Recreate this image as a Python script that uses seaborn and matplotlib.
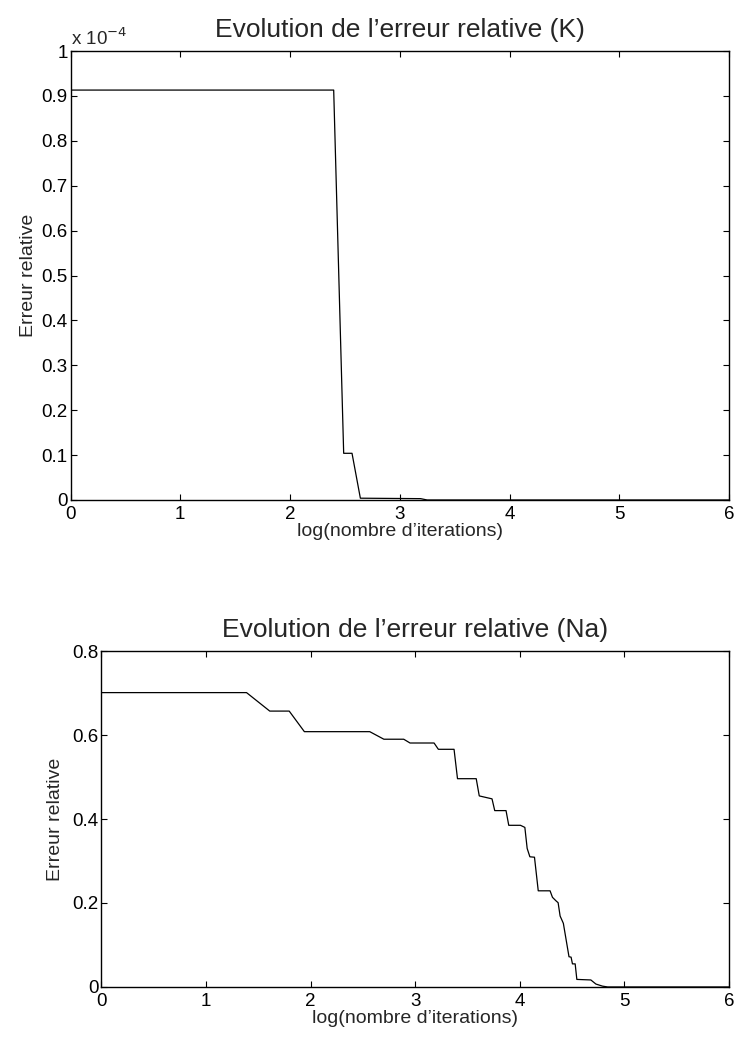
import matplotlib
matplotlib.use("Agg")
import matplotlib.pyplot as plt
import seaborn as sns
import pandas as pd
from matplotlib.ticker import FixedLocator, FuncFormatter

# ---- data ----
k_logiter = [0, 2.398, 2.489, 2.565, 2.641, 3.19, 3.25, 6.0]
k_err = [0.913e-4, 0.913e-4, 0.104e-4, 0.104e-4, 0.004e-4, 0.003e-4, 0.0, 0.0]

na_logiter = [0, 1.387, 1.609, 1.795, 1.94, 2.565, 2.70, 2.89, 2.95, 3.18, 3.221,
              3.371, 3.404, 3.583, 3.612, 3.734, 3.76, 3.868, 3.894, 4.006, 4.048,
              4.07, 4.096, 4.14, 4.176, 4.289, 4.312, 4.344, 4.366, 4.385, 4.416,
              4.47, 4.49, 4.503, 4.529, 4.545, 4.679, 4.727, 4.79, 4.84, 6.0]
na_err = [0.701, 0.701, 0.657, 0.657, 0.608, 0.608, 0.590, 0.590, 0.581, 0.581, 0.566,
          0.566, 0.496, 0.496, 0.455, 0.448, 0.420, 0.420, 0.385, 0.385, 0.380,
          0.330, 0.310, 0.309, 0.229, 0.229, 0.2135, 0.2055, 0.2007, 0.169, 0.1516,
          0.072, 0.071, 0.055, 0.055, 0.018, 0.0167, 0.007, 0.002, 0.0, 0.0]

x_ticks = [0, 1, 2, 3, 4, 5, 6]
k_yticks = [0, 0.1, 0.2, 0.3, 0.4, 0.5, 0.6, 0.7, 0.8, 0.9, 1.0]
na_yticks = [0, 0.2, 0.4, 0.6, 0.8]

title_k = "Evolution de l\u2019erreur relative (K)"
title_na = "Evolution de l\u2019erreur relative (Na)"
xlabel = "log(nombre d\u2019iterations)"
ylabel = "Erreur relative"

sns.set_theme(style="ticks")
plt.rcParams['font.family'] = ['Liberation Sans', 'DejaVu Sans']
plt.rcParams.update({
    "xtick.direction": "in", "ytick.direction": "in",
    "xtick.top": True, "ytick.right": True,
    "xtick.major.size": 4, "ytick.major.size": 4,
    "xtick.major.width": 0.8, "ytick.major.width": 0.8,
    "axes.linewidth": 1.0, "axes.edgecolor": "black",
    "xtick.color": "black", "ytick.color": "black",
    "xtick.labelsize": 13.5, "ytick.labelsize": 13.5,
})

fig = plt.figure(figsize=(7.39, 10.41), dpi=100)
ax1 = fig.add_axes([0.0954, 0.5197, 0.8911, 0.4313])
ax2 = fig.add_axes([0.1373, 0.0519, 0.8492, 0.3227])

df_k = pd.DataFrame({"x": k_logiter, "y": k_err})
df_na = pd.DataFrame({"x": na_logiter, "y": na_err})

sns.lineplot(data=df_k, x="x", y="y", ax=ax1, sort=False, estimator=None,
             color="black", linewidth=0.9)
sns.lineplot(data=df_na, x="x", y="y", ax=ax2, sort=False, estimator=None,
             color="black", linewidth=0.9)

# top axes
ax1.set_xlim(0, 6)
ax1.set_ylim(0, 1e-4)
ax1.xaxis.set_major_locator(FixedLocator(x_ticks))
ax1.yaxis.set_major_locator(FixedLocator([v * 1e-4 for v in k_yticks]))
ax1.yaxis.set_major_formatter(FuncFormatter(lambda v, p: f"{v/1e-4:g}" if abs(v) > 1e-12 else "0"))
ax1.set_title(title_k, fontsize=19, pad=10)
ax1.set_xlabel(xlabel, fontsize=14, labelpad=0)
ax1.set_ylabel(ylabel, fontsize=14, labelpad=3)
ax1.text(0.0, 1.004, "x 10$^{-4}$", transform=ax1.transAxes, fontsize=13.5,
         ha="left", va="bottom")

# bottom axes
ax2.set_xlim(0, 6)
ax2.set_ylim(0, 0.8)
ax2.xaxis.set_major_locator(FixedLocator(x_ticks))
ax2.yaxis.set_major_locator(FixedLocator(na_yticks))
ax2.yaxis.set_major_formatter(FuncFormatter(lambda v, p: f"{v:g}"))
ax2.set_title(title_na, fontsize=19, pad=10)
ax2.set_xlabel(xlabel, fontsize=14, labelpad=0)
ax2.set_ylabel(ylabel, fontsize=14, labelpad=6)

for ax in (ax1, ax2):
    for s in ax.spines.values():
        s.set_visible(True)
    ax.tick_params(axis="y", which="major", pad=2)
    ax.tick_params(axis="x", which="major", pad=4)

fig.savefig("out.png", dpi=100, facecolor="white")
